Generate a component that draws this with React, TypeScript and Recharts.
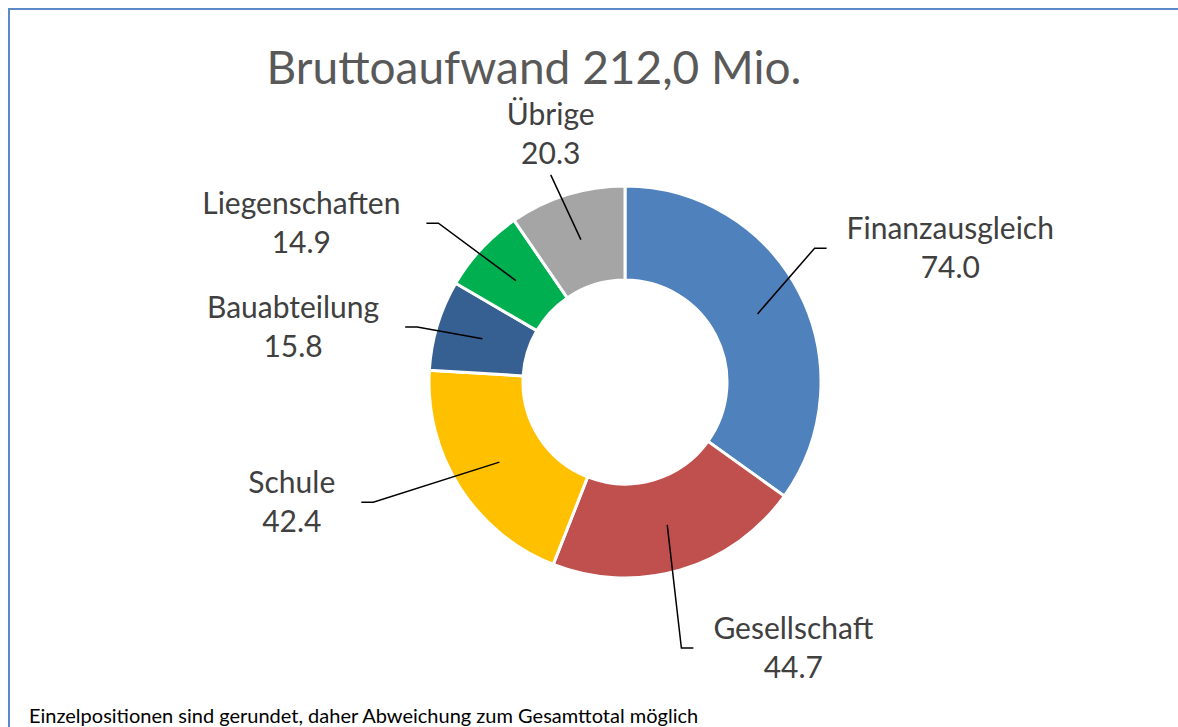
import { PieChart, Pie, Cell } from 'recharts';

const categories = ['Finanzausgleich', 'Gesellschaft', 'Schule', 'Bauabteilung', 'Liegenschaften', 'Übrige'];
const values = [74.0, 44.7, 42.4, 15.8, 14.9, 20.3];
const valueLabels = ['74.0', '44.7', '42.4', '15.8', '14.9', '20.3'];
const colors = ['#4F81BD', '#C0504D', '#FFC000', '#376092', '#00B050', '#A5A5A5'];

const title = 'Bruttoaufwand 212,0 Mio.';
const footnote = 'Einzelpositionen sind gerundet, daher Abweichung zum Gesamttotal möglich';

// where each label sits: elbow distance from centre, angle shift (deg, clockwise), side
const labelLayout = [
  { r: 232, shift: -8, side: 'right' },
  { r: 272, shift: 4.5, side: 'right' },
  { r: 279, shift: 7, side: 'left' },
  { r: 215, shift: -2, side: 'left' },
  { r: 245, shift: -2.5, side: 'left' },
  { r: 220, shift: -2.5, side: 'top' },
];

const FONT = 'Lato, "Open Sans", sans-serif';
const LABEL_SIZE = 30;
const RAD = Math.PI / 180;

let ctx: CanvasRenderingContext2D | null = null;
const measure = (s: string) => {
  if (!ctx) ctx = document.createElement('canvas').getContext('2d');
  if (!ctx) return s.length * LABEL_SIZE * 0.5;
  ctx.font = `${LABEL_SIZE}px Lato`;
  return ctx.measureText(s).width;
};

const data = categories.map((name, i) => ({ name, value: values[i], label: valueLabels[i] }));

const renderLabel = (props: any) => {
  const { cx, cy, midAngle, innerRadius, outerRadius, index } = props;
  const lay = labelLayout[index];
  const mr = (innerRadius + outerRadius) / 2;
  const sx = cx + mr * Math.cos(-midAngle * RAD);
  const sy = cy + mr * Math.sin(-midAngle * RAD);
  const a = midAngle - lay.shift;
  const ex = cx + lay.r * Math.cos(-a * RAD);
  const ey = cy + lay.r * Math.sin(-a * RAD);
  const name = categories[index];
  const val = valueLabels[index];
  const w = Math.max(measure(name), measure(val));
  const lh = 39;
  const off = LABEL_SIZE * 0.35;
  let points = `${sx},${sy} ${ex},${ey}`;
  let tx = ex;
  let ty = ey; // centre of the two-line block
  if (lay.side === 'right') {
    const hx = ex + 12;
    points += ` ${hx},${ey}`;
    tx = hx + 20 + w / 2;
  } else if (lay.side === 'left') {
    const hx = ex - 12;
    points += ` ${hx},${ey}`;
    tx = hx - 26 - w / 2;
  } else {
    ty = ey - 41;
  }
  return (
    <g key={`lbl-${index}`}>
      <polyline points={points} fill="none" stroke="#000" strokeWidth={1.5} />
      <text x={tx} y={ty - lh / 2 + off} textAnchor="middle" fill="#404040" fontSize={LABEL_SIZE} fontFamily={FONT}>
        {name}
      </text>
      <text x={tx} y={ty + lh / 2 + off} textAnchor="middle" fill="#404040" fontSize={LABEL_SIZE} fontFamily={FONT}>
        {val}
      </text>
    </g>
  );
};

export default function App() {
  return (
    <div style={{ position: 'fixed', left: 0, top: 0, width: 1178, height: 727, overflow: 'hidden', background: '#fff' }}>
      <div
        style={{
          position: 'absolute',
          left: 8,
          top: 8,
          width: 1300,
          height: 900,
          borderTop: '2px solid #5B8AC8',
          borderLeft: '2px solid #5B8AC8',
        }}
      />
      <div
        style={{
          position: 'absolute',
          left: 0,
          width: 1068,
          top: 47,
          textAlign: 'center',
          fontFamily: FONT,
          fontSize: 46,
          color: '#595959',
          lineHeight: '40px',
          whiteSpace: 'nowrap',
        }}
      >
        {title}
      </div>
      <div style={{ position: 'absolute', left: 29, top: 704, fontFamily: FONT, fontSize: 20, color: '#000', lineHeight: '23px', whiteSpace: 'nowrap' }}>
        {footnote}
      </div>
      <div style={{ position: 'absolute', left: 0, top: 0 }}>
        <PieChart width={1178} height={727} margin={{ top: 0, right: 0, bottom: 0, left: 0 }}>
          <Pie
            data={data}
            dataKey="value"
            nameKey="name"
            cx={625}
            cy={382}
            innerRadius={102}
            outerRadius={196}
            startAngle={90}
            endAngle={-270}
            stroke="#fff"
            strokeWidth={3}
            label={renderLabel}
            labelLine={false}
            isAnimationActive={false}
          >
            {data.map((d, i) => (
              <Cell key={d.name} fill={colors[i]} />
            ))}
          </Pie>
        </PieChart>
      </div>
    </div>
  );
}
